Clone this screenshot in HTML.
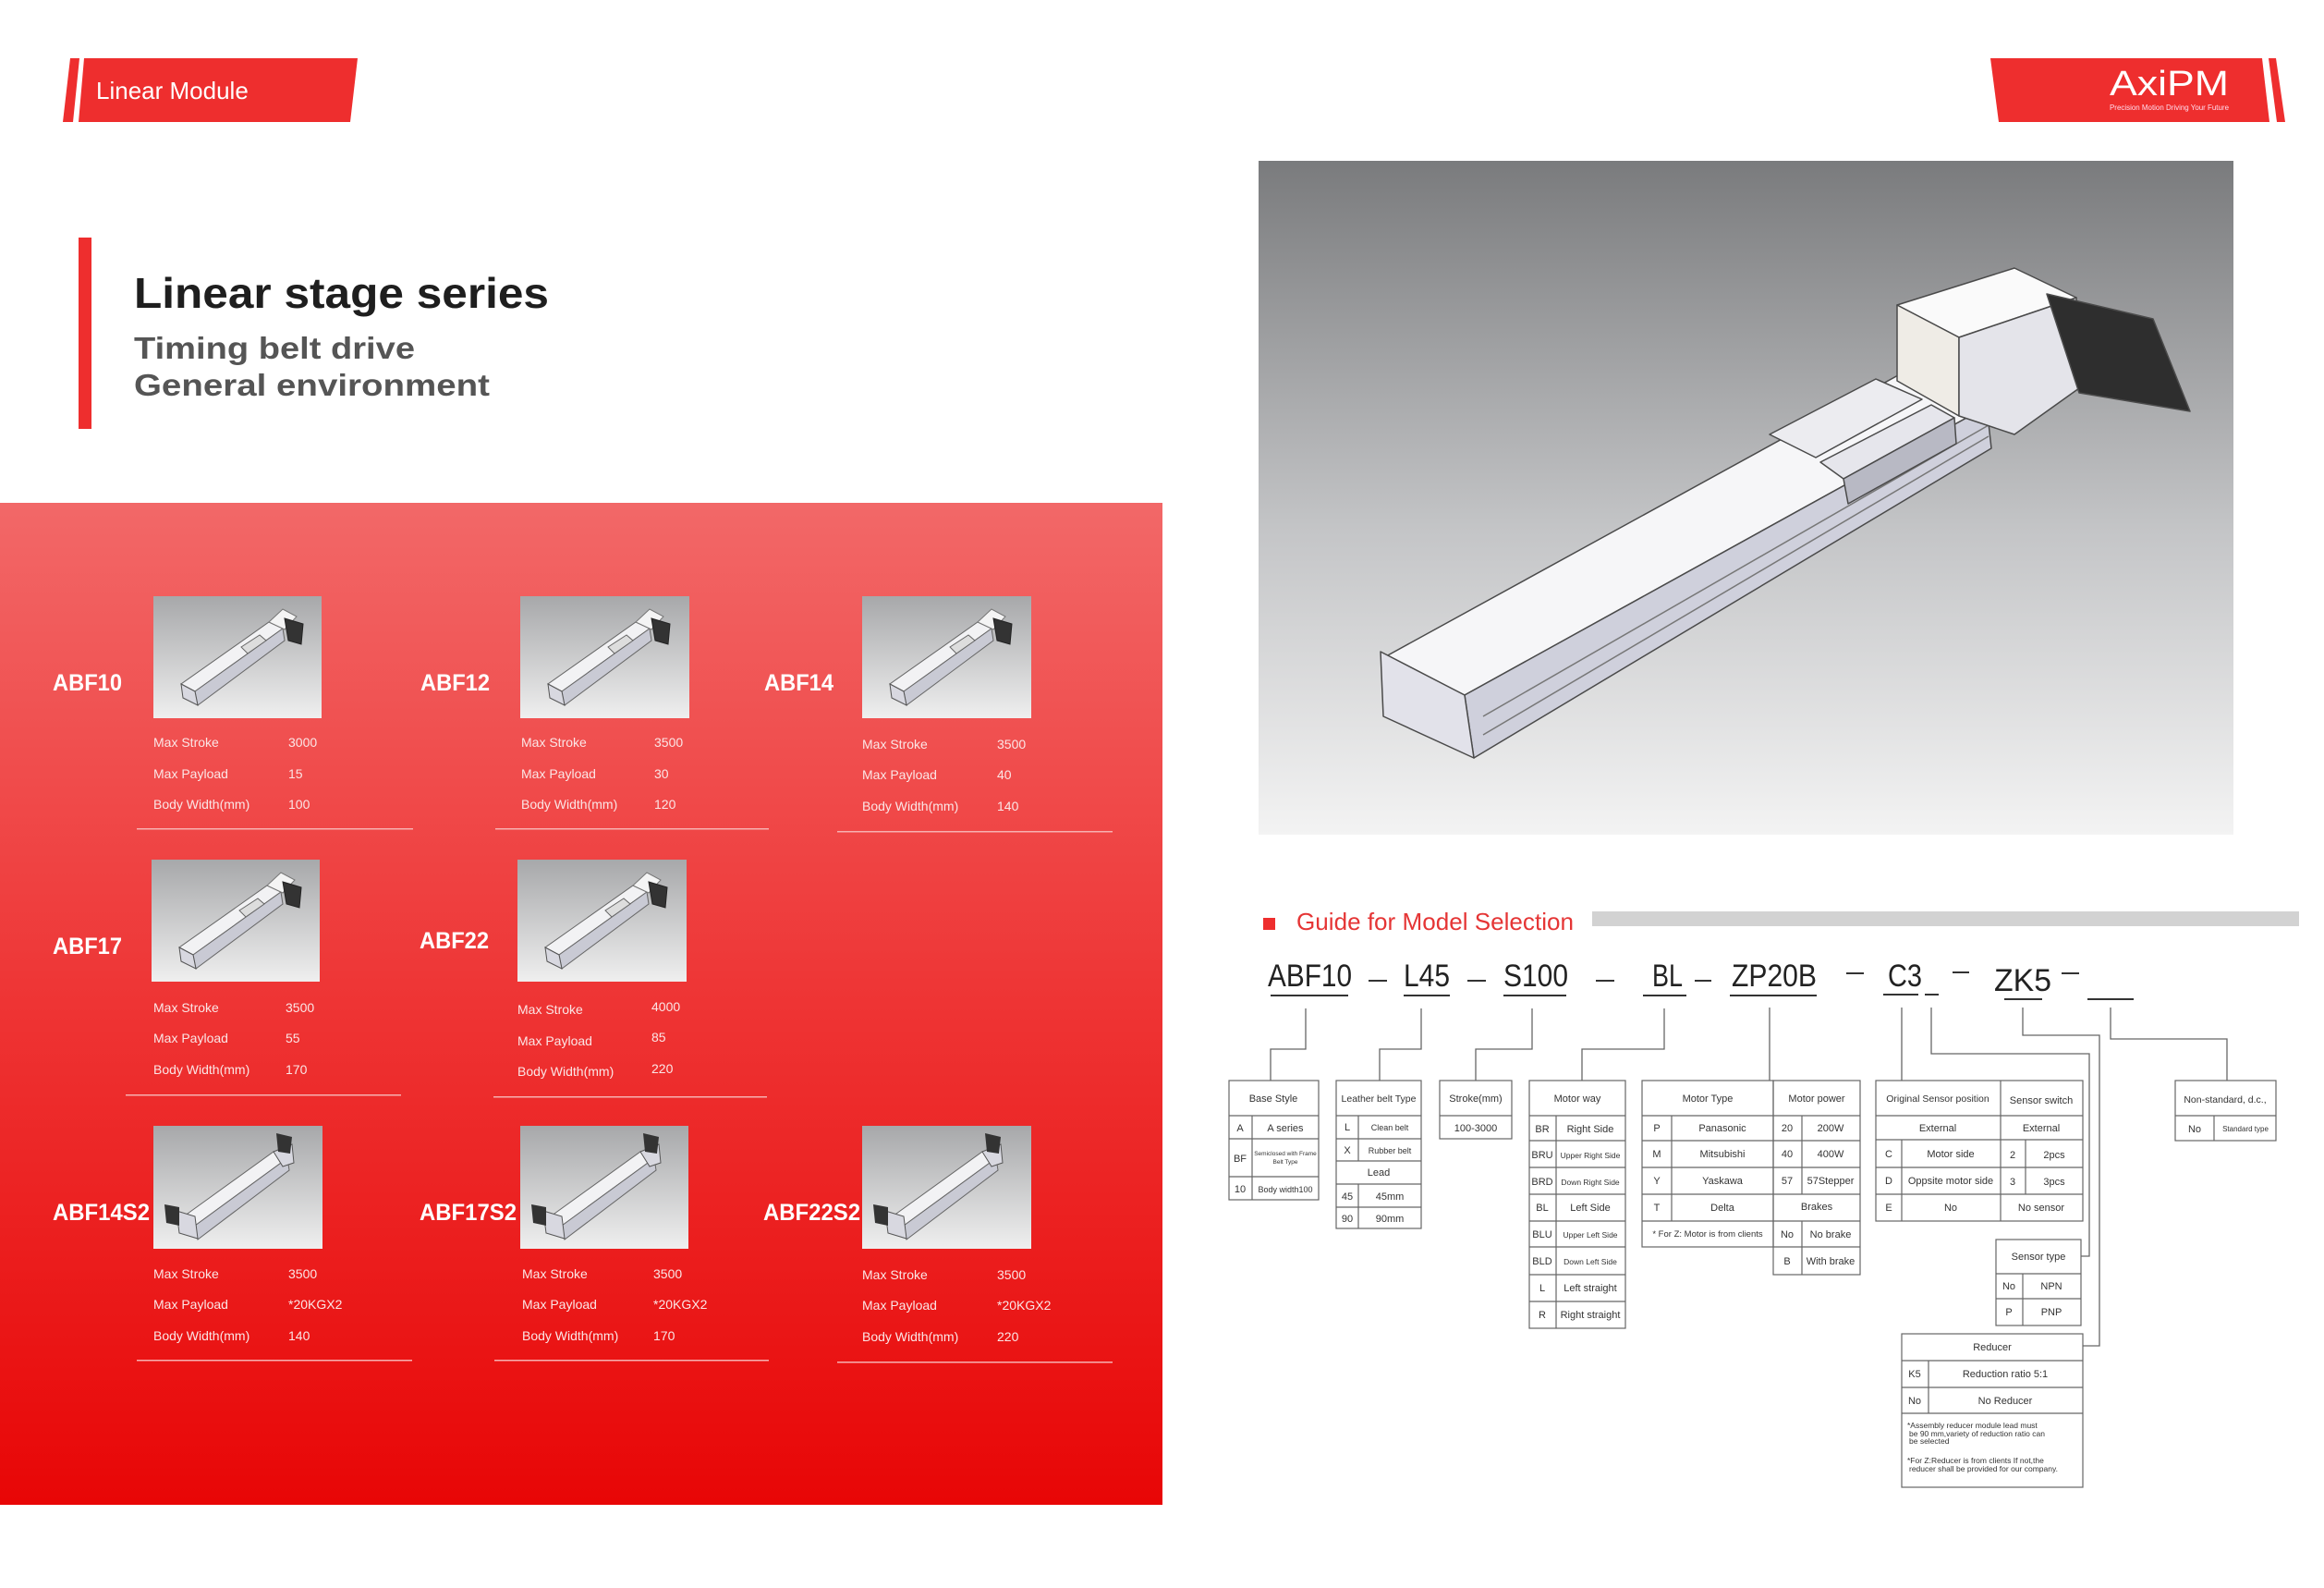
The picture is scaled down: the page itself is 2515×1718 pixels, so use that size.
<!DOCTYPE html>
<html><head><meta charset="utf-8"><style>
html,body{margin:0;padding:0;background:#fff}
svg{display:block}
.t{font-family:"Liberation Sans",sans-serif}
.n{font-family:"Liberation Sans Narrow","Liberation Sans",sans-serif}
</style></head><body>
<svg width="2515" height="1718" viewBox="0 0 2515 1718" xmlns="http://www.w3.org/2000/svg">
<defs>
<linearGradient id="rg" x1="0" y1="0" x2="0" y2="1">
<stop offset="0" stop-color="#f26868"/><stop offset="0.5" stop-color="#ee3434"/><stop offset="1" stop-color="#e80606"/></linearGradient>
<linearGradient id="gg" x1="0" y1="0" x2="0" y2="1">
<stop offset="0" stop-color="#7a7b7d"/><stop offset="0.55" stop-color="#c4c5c7"/><stop offset="1" stop-color="#f3f3f3"/></linearGradient>
<linearGradient id="tg" x1="0" y1="0" x2="0" y2="1">
<stop offset="0" stop-color="#a7a8aa"/><stop offset="1" stop-color="#efefef"/></linearGradient>
<g id="mod">
<polygon points="30,95 45,103 140,35 125,28" fill="#f2f2f4" stroke="#666" stroke-width="1"/>
<polygon points="45,103 140,35 142,48 48,118" fill="#c9cad4" stroke="#666" stroke-width="1"/>
<polygon points="30,95 45,103 48,118 32,110" fill="#d8d8e0" stroke="#555" stroke-width="1"/>
<polygon points="125,28 140,14 155,22 142,36" fill="#f4f4f4" stroke="#777" stroke-width="1"/>
<polygon points="142,24 162,30 160,52 146,48" fill="#333" stroke="#222" stroke-width="1"/>
<polygon points="95,55 115,42 122,48 102,62" fill="#ddd" stroke="#666" stroke-width="1"/>
</g>
<g id="mod2">
<polygon points="30,100 45,108 145,35 130,28" fill="#f2f2f4" stroke="#666" stroke-width="1"/>
<polygon points="45,108 145,35 147,48 48,123" fill="#c9cad4" stroke="#666" stroke-width="1"/>
<polygon points="25,92 45,98 48,122 28,116" fill="#d8d8e0" stroke="#555" stroke-width="1"/>
<polygon points="12,85 28,88 28,108 14,105" fill="#333"/>
<polygon points="130,28 150,20 152,40 140,44" fill="#d8d8e0" stroke="#555" stroke-width="1"/>
<polygon points="133,8 150,12 148,30 135,28" fill="#333"/>
</g>
</defs>

<polygon points="76,63 86,63 79,132 68,132" fill="#ee2e2e"/>
<polygon points="91,63 387,63 379,132 85,132" fill="#ee2e2e"/>
<text x="104" y="107" class="t" font-size="26" fill="#fff">Linear Module</text>
<polygon points="2154,63 2448,63 2456,132 2163,132" fill="#ee2e2e"/>
<polygon points="2455,63 2463,63 2473,132 2464,132" fill="#ee2e2e"/>
<text x="2283" y="103" class="t" font-size="38" fill="#fff" textLength="129" lengthAdjust="spacingAndGlyphs">AxiPM</text>
<text x="2283" y="119" class="t" font-size="8" fill="#fde" textLength="129" lengthAdjust="spacingAndGlyphs">Precision Motion Driving Your Future</text>

<rect x="85" y="257" width="14" height="207" fill="#ee2e2e"/>
<text x="145" y="333" class="t" font-size="46" font-weight="bold" fill="#1e1e1e" textLength="449" lengthAdjust="spacingAndGlyphs">Linear stage series</text>
<text x="145" y="388" class="t" font-size="33" font-weight="bold" fill="#555" textLength="304" lengthAdjust="spacingAndGlyphs">Timing belt drive</text>
<text x="145" y="428" class="t" font-size="33" font-weight="bold" fill="#555" textLength="385" lengthAdjust="spacingAndGlyphs">General  environment</text>

<rect x="0" y="544" width="1258" height="1084" fill="url(#rg)"/>
<g class="n" fill="#fbe6e6" font-size="14">
<text x="57" y="747" font-size="25" font-weight="bold" fill="#fff" textLength="75" lengthAdjust="spacingAndGlyphs">ABF10</text>
<rect x="166" y="645" width="182" height="132" fill="url(#tg)"/><use href="#mod" x="166" y="645"/>
<text x="166" y="808">Max Stroke</text><text x="312" y="808">3000</text>
<text x="166" y="842">Max Payload</text><text x="312" y="842">15</text>
<text x="166" y="875">Body Width(mm)</text><text x="312" y="875">100</text>
<rect x="148" y="896" width="299" height="1.5" fill="#f7b0b0"/>

<text x="455" y="747" font-size="25" font-weight="bold" fill="#fff" textLength="75" lengthAdjust="spacingAndGlyphs">ABF12</text>
<rect x="563" y="645" width="183" height="132" fill="url(#tg)"/><use href="#mod" x="563" y="645"/>
<text x="564" y="808">Max Stroke</text><text x="708" y="808">3500</text>
<text x="564" y="842">Max Payload</text><text x="708" y="842">30</text>
<text x="564" y="875">Body Width(mm)</text><text x="708" y="875">120</text>
<rect x="536" y="896" width="296" height="1.5" fill="#f7b0b0"/>

<text x="827" y="747" font-size="25" font-weight="bold" fill="#fff" textLength="75" lengthAdjust="spacingAndGlyphs">ABF14</text>
<rect x="933" y="645" width="183" height="132" fill="url(#tg)"/><use href="#mod" x="933" y="645"/>
<text x="933" y="810">Max Stroke</text><text x="1079" y="810">3500</text>
<text x="933" y="843">Max Payload</text><text x="1079" y="843">40</text>
<text x="933" y="877">Body Width(mm)</text><text x="1079" y="877">140</text>
<rect x="906" y="899" width="298" height="1.5" fill="#f7b0b0"/>

<text x="57" y="1032" font-size="25" font-weight="bold" fill="#fff" textLength="75" lengthAdjust="spacingAndGlyphs">ABF17</text>
<rect x="164" y="930" width="182" height="132" fill="url(#tg)"/><use href="#mod" x="164" y="930"/>
<text x="166" y="1095">Max Stroke</text><text x="309" y="1095">3500</text>
<text x="166" y="1128">Max Payload</text><text x="309" y="1128">55</text>
<text x="166" y="1162">Body Width(mm)</text><text x="309" y="1162">170</text>
<rect x="136" y="1184" width="298" height="1.5" fill="#f7b0b0"/>

<text x="454" y="1026" font-size="25" font-weight="bold" fill="#fff" textLength="75" lengthAdjust="spacingAndGlyphs">ABF22</text>
<rect x="560" y="930" width="183" height="132" fill="url(#tg)"/><use href="#mod" x="560" y="930"/>
<text x="560" y="1097">Max Stroke</text><text x="705" y="1094">4000</text>
<text x="560" y="1131">Max Payload</text><text x="705" y="1127">85</text>
<text x="560" y="1164">Body Width(mm)</text><text x="705" y="1161">220</text>
<rect x="534" y="1186" width="296" height="1.5" fill="#f7b0b0"/>

<text x="57" y="1320" font-size="25" font-weight="bold" fill="#fff" textLength="105" lengthAdjust="spacingAndGlyphs">ABF14S2</text>
<rect x="166" y="1218" width="183" height="133" fill="url(#tg)"/><use href="#mod2" x="166" y="1218"/>
<text x="166" y="1383">Max Stroke</text><text x="312" y="1383">3500</text>
<text x="166" y="1416">Max Payload</text><text x="312" y="1416">*20KGX2</text>
<text x="166" y="1450">Body Width(mm)</text><text x="312" y="1450">140</text>
<rect x="148" y="1471" width="298" height="1.5" fill="#f7b0b0"/>

<text x="454" y="1320" font-size="25" font-weight="bold" fill="#fff" textLength="105" lengthAdjust="spacingAndGlyphs">ABF17S2</text>
<rect x="563" y="1218" width="182" height="133" fill="url(#tg)"/><use href="#mod2" x="563" y="1218"/>
<text x="565" y="1383">Max Stroke</text><text x="707" y="1383">3500</text>
<text x="565" y="1416">Max Payload</text><text x="707" y="1416">*20KGX2</text>
<text x="565" y="1450">Body Width(mm)</text><text x="707" y="1450">170</text>
<rect x="535" y="1471" width="297" height="1.5" fill="#f7b0b0"/>

<text x="826" y="1320" font-size="25" font-weight="bold" fill="#fff" textLength="105" lengthAdjust="spacingAndGlyphs">ABF22S2</text>
<rect x="933" y="1218" width="183" height="133" fill="url(#tg)"/><use href="#mod2" x="933" y="1218"/>
<text x="933" y="1384">Max Stroke</text><text x="1079" y="1384">3500</text>
<text x="933" y="1417">Max Payload</text><text x="1079" y="1417">*20KGX2</text>
<text x="933" y="1451">Body Width(mm)</text><text x="1079" y="1451">220</text>
<rect x="906" y="1473" width="298" height="1.5" fill="#f7b0b0"/>
</g>

<rect x="1362" y="174" width="1055" height="729" fill="url(#gg)"/>
<g stroke="#4a4a4a" stroke-width="1.5" stroke-linejoin="round">
<polygon points="1500,710 1585,752 2150,440 2065,400" fill="#f6f6f8"/>
<polygon points="1585,752 2150,440 2155,485 1595,820" fill="#cfd0dc"/>
<polygon points="1494,705 1585,752 1595,820 1497,775" fill="#e2e2ea"/>
<line x1="1605" y1="775" x2="2152" y2="460" stroke="#777"/>
<line x1="1605" y1="795" x2="2152" y2="472" stroke="#777"/>
<polygon points="2053,330 2180,290 2247,322 2120,365" fill="#fafafa"/>
<polygon points="2053,330 2120,365 2120,450 2053,412" fill="#efece6"/>
<polygon points="2120,365 2247,322 2250,420 2180,470 2120,450" fill="#e4e4ea"/>
<polygon points="2215,318 2330,345 2370,445 2250,425" fill="#2e2e2e"/>
<polygon points="1915,470 2030,410 2080,432 1965,495" fill="#ececf0"/>
<polygon points="1970,500 2090,438 2115,452 1995,518" fill="#e6e6ec"/>
<polygon points="1995,518 2115,452 2117,480 2000,545" fill="#b8b9c4"/>
</g>

<rect x="1367" y="993" width="13" height="13" fill="#ee2e2e"/>
<text x="1403" y="1006" class="t" font-size="26" fill="#e53535" textLength="300" lengthAdjust="spacingAndGlyphs">Guide for Model Selection</text>
<rect x="1723" y="986" width="765" height="16" fill="#d2d2d2"/>

<g class="t" font-size="34" fill="#222">
<text x="1372" y="1067" textLength="91" lengthAdjust="spacingAndGlyphs">ABF10</text>
<text x="1519" y="1067" textLength="50" lengthAdjust="spacingAndGlyphs">L45</text>
<text x="1627" y="1067" textLength="70" lengthAdjust="spacingAndGlyphs">S100</text>
<text x="1788" y="1067" textLength="33" lengthAdjust="spacingAndGlyphs">BL</text>
<text x="1874" y="1067" textLength="92" lengthAdjust="spacingAndGlyphs">ZP20B</text>
<text x="2043" y="1067" textLength="37" lengthAdjust="spacingAndGlyphs">C3</text>
<text x="2158" y="1072" textLength="62" lengthAdjust="spacingAndGlyphs">ZK5</text>
</g>
<g stroke="#333" stroke-width="2">
<line x1="1375" y1="1077" x2="1459" y2="1077"/>
<line x1="1519" y1="1077" x2="1569" y2="1077"/>
<line x1="1627" y1="1077" x2="1695" y2="1077"/>
<line x1="1778" y1="1077" x2="1825" y2="1077"/>
<line x1="1872" y1="1077" x2="1966" y2="1077"/>
<line x1="2038" y1="1076" x2="2076" y2="1076"/>
<line x1="2083" y1="1076" x2="2098" y2="1076"/>
<line x1="2169" y1="1081" x2="2210" y2="1081"/>
<line x1="2259" y1="1081" x2="2309" y2="1081"/>
<line x1="1481" y1="1061" x2="1501" y2="1061"/>
<line x1="1588" y1="1061" x2="1608" y2="1061"/>
<line x1="1727" y1="1061" x2="1747" y2="1061"/>
<line x1="1834" y1="1061" x2="1852" y2="1061"/>
<line x1="1998" y1="1053" x2="2017" y2="1053"/>
<line x1="2113" y1="1052" x2="2131" y2="1052"/>
<line x1="2231" y1="1053" x2="2250" y2="1053"/>
</g>
<g fill="none" stroke="#666" stroke-width="1.3">
<polyline points="1413,1091 1413,1135 1375,1135 1375,1169"/>
<polyline points="1538,1091 1538,1135 1493,1135 1493,1169"/>
<polyline points="1658,1091 1658,1135 1597,1135 1597,1169"/>
<polyline points="1801,1091 1801,1135 1712,1135 1712,1169"/>
<polyline points="1915,1090 1915,1169"/>
<polyline points="2058,1090 2058,1169"/>
<polyline points="2090,1090 2090,1140 2261,1140 2261,1359 2252,1359"/>
<polyline points="2189,1090 2189,1120 2272,1120 2272,1456 2254,1456"/>
<polyline points="2284,1090 2284,1124 2410,1124 2410,1169"/>
</g>
<g fill="none" stroke="#666" stroke-width="1.2">
<rect x="1330" y="1169" width="97" height="129"/>
<path d="M1330 1207H1427M1330 1232H1427M1330 1273H1427M1355 1207V1298"/>
<rect x="1446" y="1169" width="92" height="160"/>
<path d="M1446 1207H1538M1446 1232H1538M1446 1256H1538M1446 1281H1538M1446 1306H1538M1470 1207V1256M1470 1281V1329"/>
<rect x="1558" y="1169" width="78" height="63"/>
<path d="M1558 1207H1636"/>
<rect x="1655" y="1169" width="104" height="268"/>
<path d="M1655 1207H1759M1655 1234H1759M1655 1263H1759M1655 1292H1759M1655 1321H1759M1655 1349H1759M1655 1379H1759M1655 1408H1759M1684 1207V1437"/>
<rect x="1777" y="1169" width="142" height="180"/>
<path d="M1777 1207H1919M1777 1234H1919M1777 1263H1919M1777 1292H1919M1777 1321H1919M1809 1207V1321"/>
<rect x="1919" y="1169" width="94" height="210"/>
<path d="M1919 1207H2013M1919 1234H2013M1919 1263H2013M1919 1292H2013M1919 1321H2013M1919 1349H2013M1950 1207V1292M1950 1321V1379"/>
<rect x="2030" y="1169" width="224" height="152"/>
<path d="M2165 1169V1321M2030 1207H2254M2030 1233H2254M2030 1263H2254M2030 1292H2254M2058 1233V1321M2192 1233V1292"/>
<rect x="2160" y="1341" width="92" height="93"/>
<path d="M2160 1378H2252M2160 1405H2252M2189 1378V1434"/>
<rect x="2058" y="1443" width="196" height="166"/>
<path d="M2058 1472H2254M2058 1501H2254M2058 1529H2254M2087 1472V1529"/>
<rect x="2354" y="1169" width="109" height="65"/>
<path d="M2354 1207H2463M2396 1207V1234"/>
</g>
<g class="n" fill="#333" font-size="11" text-anchor="middle">
<text x="1378" y="1192">Base Style</text>
<text x="1342" y="1224">A</text><text x="1391" y="1224">A series</text>
<text x="1342" y="1257">BF</text><text x="1391" y="1250" font-size="6.5">Semiclosed with Frame</text><text x="1391" y="1259" font-size="6.5">Belt Type</text>
<text x="1342" y="1290">10</text><text x="1391" y="1290" font-size="9">Body width100</text>

<text x="1492" y="1192" font-size="10.5">Leather belt Type</text>
<text x="1458" y="1223">L</text><text x="1504" y="1223" font-size="9">Clean belt</text>
<text x="1458" y="1248">X</text><text x="1504" y="1248" font-size="9">Rubber belt</text>
<text x="1492" y="1272">Lead</text>
<text x="1458" y="1298">45</text><text x="1504" y="1298">45mm</text>
<text x="1458" y="1322">90</text><text x="1504" y="1322">90mm</text>

<text x="1597" y="1192">Stroke(mm)</text>
<text x="1597" y="1224">100-3000</text>

<text x="1707" y="1192">Motor way</text>
<text x="1669" y="1225">BR</text><text x="1721" y="1225">Right Side</text>
<text x="1669" y="1253">BRU</text><text x="1721" y="1253" font-size="8.5">Upper Right Side</text>
<text x="1669" y="1282">BRD</text><text x="1721" y="1282" font-size="8.5">Down Right Side</text>
<text x="1669" y="1310">BL</text><text x="1721" y="1310">Left Side</text>
<text x="1669" y="1339">BLU</text><text x="1721" y="1339" font-size="8.5">Upper Left Side</text>
<text x="1669" y="1368">BLD</text><text x="1721" y="1368" font-size="8.5">Down Left Side</text>
<text x="1669" y="1397">L</text><text x="1721" y="1397">Left straight</text>
<text x="1669" y="1426">R</text><text x="1721" y="1426">Right straight</text>

<text x="1848" y="1192">Motor Type</text>
<text x="1793" y="1224">P</text><text x="1864" y="1224">Panasonic</text>
<text x="1793" y="1252">M</text><text x="1864" y="1252">Mitsubishi</text>
<text x="1793" y="1281">Y</text><text x="1864" y="1281">Yaskawa</text>
<text x="1793" y="1310">T</text><text x="1864" y="1310">Delta</text>
<text x="1848" y="1338" font-size="9.5">* For Z: Motor is from clients</text>

<text x="1966" y="1192">Motor power</text>
<text x="1934" y="1224">20</text><text x="1981" y="1224">200W</text>
<text x="1934" y="1252">40</text><text x="1981" y="1252">400W</text>
<text x="1934" y="1281">57</text><text x="1981" y="1281">57Stepper</text>
<text x="1966" y="1309">Brakes</text>
<text x="1934" y="1339">No</text><text x="1981" y="1339">No brake</text>
<text x="1934" y="1368">B</text><text x="1981" y="1368">With brake</text>

<text x="2097" y="1192" font-size="10.5">Original Sensor position</text>
<text x="2209" y="1194">Sensor switch</text>
<text x="2097" y="1224">External</text><text x="2209" y="1224">External</text>
<text x="2044" y="1252">C</text><text x="2111" y="1252">Motor side</text>
<text x="2044" y="1281">D</text><text x="2111" y="1281">Oppsite motor side</text>
<text x="2044" y="1310">E</text><text x="2111" y="1310">No</text>
<text x="2178" y="1253">2</text><text x="2223" y="1253">2pcs</text>
<text x="2178" y="1282">3</text><text x="2223" y="1282">3pcs</text>
<text x="2209" y="1310">No sensor</text>

<text x="2206" y="1363">Sensor type</text>
<text x="2174" y="1395">No</text><text x="2220" y="1395">NPN</text>
<text x="2174" y="1423">P</text><text x="2220" y="1423">PNP</text>

<text x="2156" y="1461">Reducer</text>
<text x="2072" y="1490">K5</text><text x="2170" y="1490">Reduction ratio 5:1</text>
<text x="2072" y="1519">No</text><text x="2170" y="1519">No Reducer</text>
<g text-anchor="start" font-size="8.5">
<text x="2064" y="1545">*Assembly reducer module lead must</text>
<text x="2066" y="1554">be  90 mm,variety of reduction ratio can</text>
<text x="2066" y="1562">be selected</text>
<text x="2064" y="1583">*For Z:Reducer is from clients  If not,the</text>
<text x="2066" y="1592">reducer shall be provided for our company.</text>
</g>
<text x="2408" y="1193" font-size="10.5">Non-standard, d.c.,</text>
<text x="2375" y="1225">No</text><text x="2430" y="1224" font-size="8">Standard type</text>
</g>
</svg>
</body></html>
